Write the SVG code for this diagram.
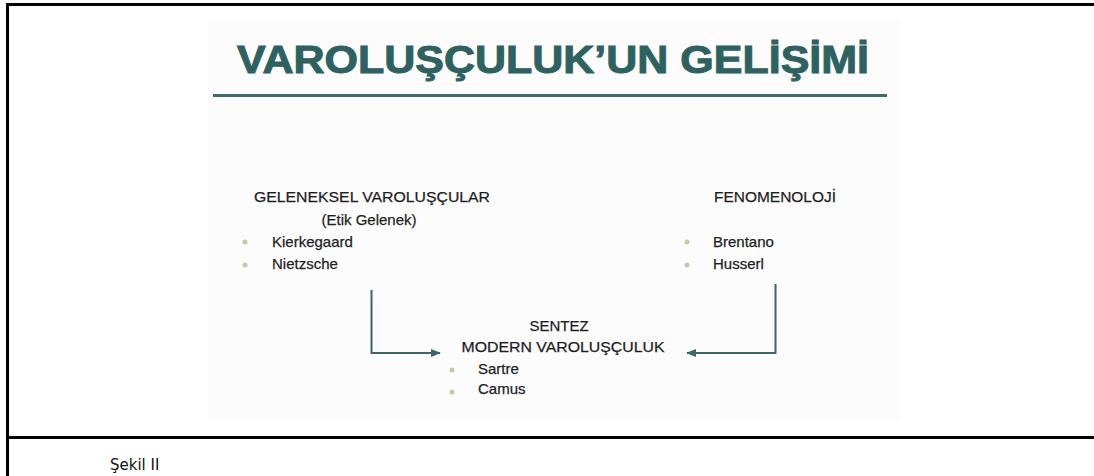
<svg xmlns="http://www.w3.org/2000/svg" width="1094" height="476" viewBox="0 0 1094 476">
<style>
.t{font-family:"Liberation Sans",Arial,sans-serif;font-size:15px;fill:#1e1e1e;stroke:#1e1e1e;stroke-width:0.25}
.b{fill:#c5cc9e}
.c{fill:none;stroke:#3a6767;stroke-width:2}
.frame{fill:none;stroke:#000;stroke-width:3}
</style>
<defs>
<marker id="ah" viewBox="0 0 10 10" refX="9" refY="5" markerWidth="5" markerHeight="5" orient="auto" markerUnits="strokeWidth">
<path d="M0,1 L10,5 L0,9 z" fill="#3a6767"/>
</marker>
</defs>
<rect width="1094" height="476" fill="#fff"/>
<path class="frame" d="M7.5,476 V4.5 H1094 M7.5,437.5 H1094"/>
<rect x="208" y="20" width="692" height="400" fill="#fcfcfc"/>
<g id="title">
<text x="553" y="73" text-anchor="middle" font-family="'Liberation Sans',Arial,sans-serif" font-weight="bold" font-size="39" fill="#2d6261" stroke="#2d6261" stroke-width="1" textLength="632" lengthAdjust="spacingAndGlyphs">VAROLUŞÇULUK’UN GELİŞİMİ</text>
<rect x="213" y="94" width="674" height="3" fill="#3d6b6a"/>
</g>
<g id="node-geleneksel">
<text class="t" x="372" y="202" text-anchor="middle" textLength="236" lengthAdjust="spacingAndGlyphs">GELENEKSEL VAROLUŞÇULAR</text>
<text class="t" x="369" y="225" text-anchor="middle">(Etik Gelenek)</text>
<circle class="b" cx="245" cy="242" r="2.5"/>
<text class="t" x="272" y="247">Kierkegaard</text>
<circle class="b" cx="245" cy="265" r="2.5"/>
<text class="t" x="272" y="269">Nietzsche</text>
</g>
<g id="node-fenomenoloji">
<text class="t" x="775" y="202" text-anchor="middle" textLength="122" lengthAdjust="spacingAndGlyphs">FENOMENOLOJİ</text>
<circle class="b" cx="687" cy="242" r="2.5"/>
<text class="t" x="713" y="247">Brentano</text>
<circle class="b" cx="687" cy="265" r="2.5"/>
<text class="t" x="713" y="269">Husserl</text>
</g>
<g id="node-sentez">
<text class="t" x="559" y="331" text-anchor="middle">SENTEZ</text>
<text class="t" x="563" y="352" text-anchor="middle" textLength="203" lengthAdjust="spacingAndGlyphs">MODERN VAROLUŞÇULUK</text>
<circle class="b" cx="452" cy="370" r="2.5"/>
<text class="t" x="478" y="374">Sartre</text>
<circle class="b" cx="452" cy="392" r="2.5"/>
<text class="t" x="478" y="394">Camus</text>
</g>
<g id="connectors">
<path class="c" d="M371.5,290 V353 H440" marker-end="url(#ah)"/>
<path class="c" d="M775.5,284 V353 H687" marker-end="url(#ah)"/>
</g>
<text x="110" y="470" font-family="'DejaVu Sans',sans-serif" font-size="15" fill="#111">Şekil II</text>
</svg>
